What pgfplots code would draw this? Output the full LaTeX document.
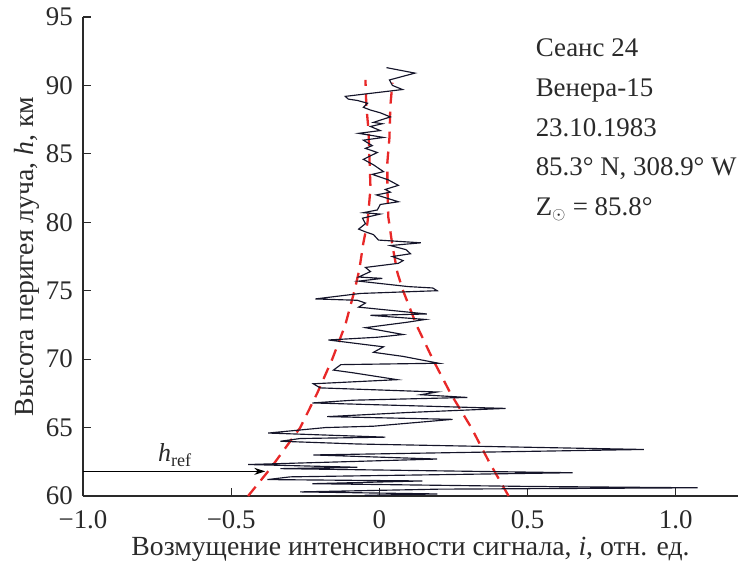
\documentclass[border=0pt]{standalone}
\usepackage{pgfplots}
\pgfplotsset{compat=1.18}
\usepackage{fontspec}
\setmainfont{Liberation Serif}
\usetikzlibrary{arrows.meta}
\definecolor{tr}{HTML}{15152A}
\definecolor{rd}{HTML}{E82828}
\definecolor{ax}{HTML}{2A2A2A}
\begin{document}
\begin{tikzpicture}
\begin{axis}[
  scale only axis, width=655bp, height=479bp,
  xmin=-1, xmax=1.21, ymin=60, ymax=95,
  axis x line*=bottom, axis y line*=left,
  axis line style={ax, line width=1.1bp},
  tick style={ax, line width=1.1bp},
  tick align=inside, major tick length=8bp,
  xtick={-1,-0.5,0,0.5,1}, xticklabels={−1.0,−0.5,0,0.5,1.0},
  ytick={60,65,70,75,80,85,90,95}, yticklabels={60,65,70,75,80,85,90,95},
  tick label style={font=\fontsize{27}{30}\selectfont, text=ax, inner sep=1bp},
  x tick label style={yshift=-13bp},
  y tick label style={xshift=-9bp},
  xlabel={Возмущение интенсивности сигнала, \textit{i}, отн. ед.},
  ylabel={Высота перигея луча, \textit{h}, км},
  xlabel style={font=\fontsize{27.8}{32}\selectfont, text=ax, at={(axis description cs:0.5,-0.1245)}, anchor=base},
  ylabel style={font=\fontsize{27.8}{32}\selectfont, text=ax, at={(axis description cs:-0.0763,0.5)}, anchor=base},
  clip=false,
]
% red envelopes
\addplot[rd, line width=2.3bp, dash pattern=on 12bp off 8bp] coordinates {
(-0.443,60) (-0.368,62) (-0.267,65) (-0.21,67.5) (-0.159,70) (-0.115,72.5) (-0.084,75)
(-0.068,76.5) (-0.054,78.5) (-0.04,80) (-0.03,82.5) (-0.034,85) (-0.037,86.8) (-0.044,88.5) (-0.047,90.4)};
\addplot[rd, line width=2.3bp, dash pattern=on 12bp off 8bp] coordinates {
(0.436,60) (0.37,62.5) (0.31,65) (0.24,67.5) (0.18,70) (0.125,72.5) (0.08,75)
(0.061,76.3) (0.044,78.3) (0.03,80.4) (0.027,82.6) (0.027,84.4) (0.034,86.2) (0.037,88.5) (0.044,90.2)};
% signal trace
\addplot[tr, line width=1.15bp] coordinates {
(0.024,91.3) (0.12,90.9) (0.034,90.4) (0.044,90.0) (0.078,89.7) (-0.115,89.2) (-0.105,89.0)
(-0.074,88.9) (-0.04,88.7) (-0.054,88.4) (-0.03,88.2) (0.003,88.0) (0.037,87.7) (-0.02,87.3)
(0.01,87.2) (-0.03,87.0) (0.003,86.7) (-0.07,86.5) (0.014,86.2) (-0.054,86.0) (-0.024,85.6)
(-0.047,85.4) (-0.007,85.1) (-0.054,84.6) (-0.02,84.2) (0.014,83.7) (-0.024,83.5) (0.03,83.1)
(0.064,82.7) (0.02,82.4) (0.037,82.2) (-0.01,82.0) (0.064,81.5) (0.003,81.3) (-0.007,80.9)
(-0.054,80.7) (0.003,80.6) (-0.057,80.3) (-0.047,79.9) (-0.07,79.5) (-0.047,79.3) (-0.02,79.1)
(-0.003,78.7) (0.14,78.5) (0.037,78.3) (0.09,78.0) (0.105,77.7) (0.044,77.5) (0.08,77.2)
(0.064,77.0) (-0.047,76.7) (-0.03,76.4) (-0.07,76.0) (0.01,75.9) (-0.07,75.7) (0.098,75.3)
(0.18,75.2) (0.195,75.0) (-0.064,74.8) (-0.216,74.4) (-0.074,74.3) (-0.047,74.1) (-0.07,73.8)
(0.16,73.3) (-0.03,73.2) (0.155,72.9) (0.095,72.7) (-0.047,72.3) (0.08,71.8) (-0.007,71.6)
(-0.172,71.4) (0.014,70.9) (-0.02,70.5) (0.08,70.2) (0.2,69.7) (-0.13,69.6) (-0.155,69.2)
(-0.088,69.0) (0.06,68.5) (-0.223,68.2) (-0.2,67.9) (0.195,67.6) (0.14,67.4) (0.297,67.2)
(-0.088,67.0) (-0.226,66.8) (0.426,66.4) (0.095,66.1) (-0.176,65.8) (0.247,65.6) (-0.02,65.1)
(-0.182,65.0) (-0.375,64.6) (0.02,64.3) (-0.267,64.2) (-0.334,64.0) (-0.074,63.8) (0.892,63.4)
(-0.223,63.0) (0.195,62.7) (-0.443,62.3) (-0.074,62.1) (-0.334,62.0) (0.652,61.7) (-0.3,61.4)
(-0.378,61.2) (0.145,61.1) (-0.226,60.9) (0.5,60.7) (1.074,60.6) (0.2,60.5) (-0.267,60.3)
(0.196,60.15) (-0.05,60.05)};
% h_ref arrow
\draw[-{Stealth[length=11bp,width=7bp]}, line width=0.9bp, black] (axis cs:-1,61.8) -- (axis cs:-0.385,61.8);
\node[font=\fontsize{26}{30}\selectfont, text=ax, anchor=base, inner sep=0pt] at (axis cs:-0.69,62.5) {\textit{h}\textsubscript{ref}};
% annotation
\node[font=\fontsize{27}{30}\selectfont, text=ax, anchor=base west, inner sep=0pt] at (axis cs:0.527,92.1) {Сеанс 24};
\node[font=\fontsize{27}{30}\selectfont, text=ax, anchor=base west, inner sep=0pt] at (axis cs:0.527,89.2) {Венера-15};
\node[font=\fontsize{27}{30}\selectfont, text=ax, anchor=base west, inner sep=0pt] at (axis cs:0.527,86.25) {23.10.1983};
\node[font=\fontsize{27}{30}\selectfont, text=ax, anchor=base west, inner sep=0pt] at (axis cs:0.527,83.45) {85.3° N, 308.9° W};
\node[font=\fontsize{27}{30}\selectfont, text=ax, anchor=base west, inner sep=0pt] at (axis cs:0.527,80.5) {Z$_\odot$ = 85.8°};
\end{axis}
\pgfresetboundingbox
\path (-83bp,-66bp) rectangle (655bp,496bp);
\end{tikzpicture}
\end{document}
